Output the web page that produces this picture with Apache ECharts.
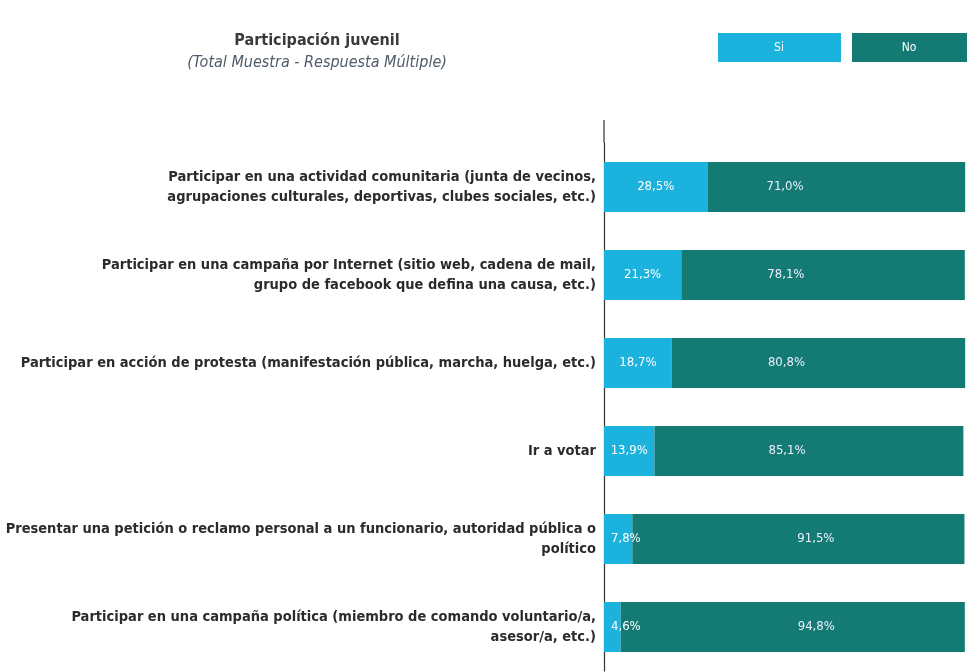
<!DOCTYPE html>
<html>
<head>
<meta charset="utf-8">
<script src="https://cdn.jsdelivr.net/npm/echarts@6/dist/echarts.min.js"></script>
<style>
  html, body { margin: 0; padding: 0; background: #fff; overflow: hidden; }
  #chart { width: 967px; height: 672px; }
</style>
</head>
<body>
<div id="chart"></div>
<script>
// categorias (de arriba hacia abajo)
const categories = [
  "Participar en una actividad comunitaria (junta de vecinos,\nagrupaciones culturales, deportivas, clubes sociales, etc.)",
  "Participar en una campaña por Internet (sitio web, cadena de mail,\ngrupo de facebook que defina una causa, etc.)",
  "Participar en acción de protesta (manifestación pública, marcha, huelga, etc.)",
  "Ir a votar",
  "Presentar una petición o reclamo personal a un funcionario, autoridad pública o\npolítico",
  "Participar en una campaña política (miembro de comando voluntario/a,\nasesor/a, etc.)"
];
const siValues = [28.5, 21.3, 18.7, 13.9, 7.8, 4.6];
const noValues = [71.0, 78.1, 80.8, 85.1, 91.5, 94.8];
const seriesNames = ["Si", "No"];

// desplazamiento de etiquetas "No" (px desde el inicio de la barra)
const noLabelShift = [59, 86, 96, 114, 165, 177];

const colorSi = "#1bb2de";
const colorNo = "#137b73";
const narrow = "'Liberation Sans Narrow', 'DejaVu Sans Condensed', sans-serif";

const pct = (v) => v.toFixed(1).replace(".", ",") + "%";

const chart = echarts.init(document.getElementById("chart"));

let option = {
  animation: false,
  backgroundColor: "#fff",
  title: {
    text: "Participación juvenil",
    subtext: "(Total Muestra - Respuesta Múltiple)",
    left: 312,
    textAlign: "center",
    top: 28,
    itemGap: 6,
    textStyle: {
      fontFamily: "'DejaVu Sans Condensed', sans-serif",
      fontWeight: "bold",
      fontSize: 16,
      color: "#3a3a3a",
    },
    subtextStyle: {
      fontFamily: "'DejaVu Sans Condensed', sans-serif",
      fontStyle: "italic",
      fontSize: 16,
      color: "#4f5c6b",
    },
  },
  grid: {
    left: 604,
    width: 375,
    top: 143,
    height: 528,
  },
  xAxis: {
    type: "value",
    min: 0,
    max: 100,
    show: false,
  },
  yAxis: {
    type: "category",
    inverse: true,
    data: categories,
    axisTick: { show: false },
    axisLine: { lineStyle: { color: "#333", width: 1.2 } },
    axisLabel: {
      margin: 8,
      align: "right",
      fontFamily: "'DejaVu Sans Condensed', sans-serif",
      fontWeight: "bold",
      fontSize: 14.5,
      lineHeight: 20,
      color: "#2b2b2b",
    },
  },
  series: [
    {
      name: seriesNames[0],
      type: "bar",
      stack: "total",
      barWidth: 50,
      itemStyle: { color: colorSi },
      data: siValues.map((v) => ({
        value: v,
        label: v < 10 ? { position: "insideLeft", distance: 7 } : {},
      })),
      label: {
        show: true,
        position: "inside",
        color: "#fff",
        fontFamily: narrow,
        fontSize: 13,
        formatter: (p) => pct(p.value),
      },
    },
    {
      name: seriesNames[1],
      type: "bar",
      stack: "total",
      barWidth: 50,
      itemStyle: { color: colorNo },
      data: noValues.map((v, i) => ({
        value: v,
        label: { position: [noLabelShift[i], "50%"] },
      })),
      label: {
        show: true,
        verticalAlign: "middle",
        color: "#eef",
        fontFamily: narrow,
        fontSize: 13,
        formatter: (p) => pct(p.value),
      },
    },
  ],
  graphic: [
    // prolongacion del eje por encima de la primera categoria
    {
      type: "line",
      shape: { x1: 604, y1: 120, x2: 604, y2: 143 },
      style: { stroke: "#333", lineWidth: 1.2 },
    },
    // leyenda en cajas
    {
      type: "rect",
      shape: { x: 718, y: 33, width: 123, height: 29 },
      style: { fill: colorSi },
    },
    {
      type: "text",
      x: 779, y: 48,
      style: {
        text: seriesNames[0], fill: "#fff", font: "12px " + narrow,
        align: "center", verticalAlign: "middle",
      },
    },
    {
      type: "rect",
      shape: { x: 852, y: 33, width: 123, height: 29 },
      style: { fill: colorNo },
    },
    {
      type: "text",
      x: 909, y: 48,
      style: {
        text: seriesNames[1], fill: "#fff", font: "12px " + narrow,
        align: "center", verticalAlign: "middle",
      },
    },
  ],
};

chart.setOption(option, true);
</script>
</body>
</html>
